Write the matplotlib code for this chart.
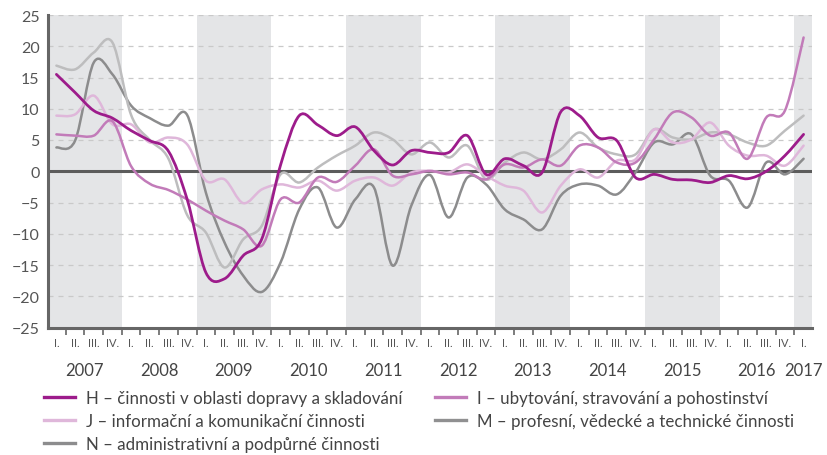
import matplotlib
matplotlib.use("Agg")
import matplotlib.pyplot as plt
import matplotlib.transforms as mtransforms
from matplotlib.path import Path
from matplotlib.patches import PathPatch
from matplotlib.lines import Line2D
from matplotlib import font_manager
import numpy as np

# ---------------- data ----------------
quarter_names = ["I.", "II.", "III.", "IV."]
years = [2007, 2008, 2009, 2010, 2011, 2012, 2013, 2014, 2015, 2016, 2017]

H = [15.5, 12.6, 9.7, 8.5, 6.5, 4.9, 3.2, -4.5, -16.2, -17.2, -13.5, -10.8, 1.0, 8.9,
     7.4, 5.7, 7.1, 3.3, 1.0, 3.3, 3.0, 3.0, 5.7, -0.5, 2.0, 0.9, -0.2, 9.5, 8.9, 5.4,
     4.9, -1.0, -0.5, -1.3, -1.4, -1.8, -0.7, -1.2, 0.0, 2.5, 5.9]
I = [5.9, 5.7, 5.7, 8.0, 0.8, -2.0, -3.0, -4.5, -6.3, -7.9, -9.3, -11.9, -4.5, -5.0,
     -1.0, -1.7, 0.9, 3.5, -0.7, -0.5, 0.05, -0.5, -0.2, -1.3, 1.1, 0.6, 1.9, 0.9, 4.1,
     3.8, 1.4, 1.4, 5.1, 9.4, 8.6, 5.7, 6.2, 2.0, 8.6, 9.7, 21.4]
J = [8.9, 9.1, 12.1, 7.5, 7.5, 4.6, 5.4, 4.3, -1.5, -1.3, -5.1, -2.9, -2.1, -2.6,
     -1.5, -3.1, -1.5, -1.0, -2.3, -0.2, 0.05, -0.2, 1.1, -0.7, -2.3, -3.1, -6.6, -2.3,
     0.3, -1.0, 1.7, 1.9, 6.7, 4.6, 5.1, 7.8, 4.1, 2.5, 2.5, 0.9, 4.1]
M = [16.9, 16.3, 19.0, 20.6, 9.0, 5.0, 2.0, -7.0, -9.8, -15.4, -10.9, -8.7, -0.5, -1.8,
     0.6, 2.5, 4.1, 6.2, 5.1, 2.7, 4.6, 2.2, 4.1, -1.3, 1.4, 3.0, 1.9, 3.5, 6.2, 3.8,
     2.7, 2.7, 6.7, 5.4, 5.1, 6.2, 5.9, 4.6, 4.1, 6.5, 8.9]
N = [3.8, 4.9, 17.4, 15.5, 10.5, 8.5, 7.3, 9.0, -3.4, -11.4, -16.7, -19.3, -14.6, -6.1,
     -2.6, -9.0, -4.5, -2.6, -15.1, -5.5, -0.6, -7.4, -1.0, -2.1, -6.1, -7.7, -9.3, -3.9,
     -2.1, -2.3, -3.7, -0.2, 4.6, 4.3, 5.9, -0.7, -1.5, -5.8, 1.4, -0.5, 2.0]

labels = {
    "H": "H – činnosti v oblasti dopravy a skladování",
    "I": "I – ubytování, stravování a pohostinství",
    "J": "J – informační a komunikační činnosti",
    "M": "M – profesní, vědecké a technické činnosti",
    "N": "N – administrativní a podpůrné činnosti",
}
line_colors = {"H": "#9d1c8b", "I": "#c27bb9", "J": "#dfb7da", "M": "#bdbdbe", "N": "#8c8c8d"}
legend_colors = {"H": "#9d1c8b", "I": "#c27bb9", "J": "#dfb7da", "M": "#909091", "N": "#8c8c8d"}
series = {"N": N, "M": M, "J": J, "I": I, "H": H}

# ---------------- fonts ----------------
avail = {f.name for f in font_manager.fontManager.ttflist}
main_font = "Lato" if "Lato" in avail else "DejaVu Sans"
plt.rcParams["font.family"] = [main_font, "DejaVu Sans"]

W, Hpx = 828, 456
fig = plt.figure(figsize=(W / 100, Hpx / 100), dpi=100)
ax_left, ax_right, ax_top, ax_bottom = 48, 812, 16, 328.5
ax = fig.add_axes([ax_left / W, 1 - ax_bottom / Hpx, (ax_right - ax_left) / W,
                   (ax_bottom - ax_top) / Hpx])

n = len(H)
xs = np.arange(n)


def smooth_path(x, y, t=1 / 6):
    verts = [(x[0], y[0])]
    codes = [Path.MOVETO]
    m = len(x)
    for i in range(m - 1):
        p0 = (x[i - 1], y[i - 1]) if i > 0 else (x[i], y[i])
        p1 = (x[i], y[i])
        p2 = (x[i + 1], y[i + 1])
        p3 = (x[i + 2], y[i + 2]) if i + 2 < m else p2
        c1 = (p1[0] + (p2[0] - p0[0]) * t, p1[1] + (p2[1] - p0[1]) * t)
        c2 = (p2[0] - (p3[0] - p1[0]) * t, p2[1] - (p3[1] - p1[1]) * t)
        verts += [c1, c2, p2]
        codes += [Path.CURVE4] * 3
    return Path(verts, codes)


# shaded year bands
for k, yr in enumerate(years):
    if k % 2 == 0:
        ax.axvspan(4 * k - 0.5, 4 * k + 3.5, color="#e4e5e7", lw=0, zorder=0)

# data lines
widths = {"H": 2.0, "I": 1.8, "J": 1.8, "M": 1.8, "N": 1.8}
for key, vals in series.items():
    p = PathPatch(smooth_path(xs, np.array(vals, dtype=float)), fill=False,
                  edgecolor=line_colors[key], lw=widths[key], zorder=3,
                  capstyle="round", joinstyle="round")
    ax.add_patch(p)

ax.axhline(0, color="#5c5c5c", lw=2.2, zorder=2)

ax.set_xlim(-0.45, 40.45)
ax.set_ylim(-25, 25)
ax.set_yticks(range(-25, 30, 5))
ax.set_axisbelow(True)
ax.yaxis.grid(True, linestyle=(0, (4, 4)), color="#c9c9c9", lw=0.9)
ax.xaxis.grid(False)

for s in ["top", "right"]:
    ax.spines[s].set_visible(False)
for s in ["left", "bottom"]:
    ax.spines[s].set_color("#666666")
    ax.spines[s].set_linewidth(2.2)

ax.tick_params(axis="y", length=0, pad=6, labelsize=11.5, labelcolor="#555555")
ax.set_xticks(xs)
ax.set_xticklabels([quarter_names[i % 4] for i in range(n)])
ax.tick_params(axis="x", which="major", length=0, pad=7, labelsize=8, labelcolor="#555555")
ax.set_xticks(np.arange(0.5, n - 0.5, 1.0), minor=True)
ax.tick_params(axis="x", which="minor", length=5, width=1.2, color="#666666", direction="out")

trans = mtransforms.blended_transform_factory(ax.transData, ax.transAxes)
yy = -(370.5 - ax_bottom) / (ax_bottom - ax_top)
for k, yr in enumerate(years):
    xc = 4 * k + 1.5 if yr != 2017 else 40
    ax.text(xc, yy, str(yr), transform=trans, ha="center", va="center",
            fontsize=12, color="#444444")

# legend (row-major: H I / J M / N)
def handle(key):
    return Line2D([], [], color=legend_colors[key], lw=2.4)

leg_kw = dict(frameon=False, fontsize=12.2, handlelength=1.85, handletextpad=0.6,
              labelspacing=0.42, borderpad=0, borderaxespad=0, loc="upper left",
              labelcolor="#444444")
top_y = 1 - 391 / Hpx
leg1 = fig.legend([handle(k) for k in ["H", "J", "N"]], [labels[k] for k in ["H", "J", "N"]],
                  bbox_to_anchor=(44 / W, top_y), **leg_kw)
leg2 = fig.legend([handle(k) for k in ["I", "M"]], [labels[k] for k in ["I", "M"]],
                  bbox_to_anchor=(435 / W, top_y), **leg_kw)

fig.savefig("out.png", dpi=100)
